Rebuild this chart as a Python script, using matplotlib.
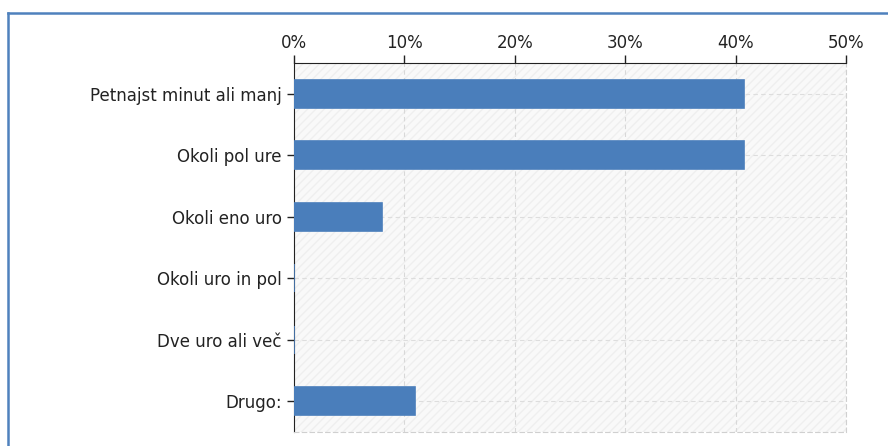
import matplotlib
matplotlib.use("Agg")
import matplotlib.pyplot as plt
from matplotlib.patches import Rectangle
from matplotlib.lines import Line2D

# Podatki
kategorije = ["Petnajst minut ali manj", "Okoli pol ure", "Okoli eno uro",
              "Okoli uro in pol", "Dve uro ali več", "Drugo:"]
odstotki = [40.8, 40.8, 8.0, 0.0, 0.0, 11.0]
oznake_x = ["0%", "10%", "20%", "30%", "40%", "50%"]

plt.rcParams['font.family'] = ['DejaVu Sans']

fig = plt.figure(figsize=(8.88, 4.46), dpi=100)
ax = fig.add_axes([294 / 888, 1 - 432 / 446, 552 / 888, 369 / 446])

# ozadje s srafuro
ax.set_facecolor("#f9f9f9")
ax.add_patch(Rectangle((0, 0), 1, 1, transform=ax.transAxes, facecolor="none",
                       edgecolor="#efefef", hatch="////", lw=0, zorder=0))

y = range(len(kategorije))
ax.barh(y, odstotki, height=0.46, color="#4a7ebb", edgecolor="#4a7ebb",
        linewidth=1.2, zorder=3)

ax.set_xlim(0, 50)
ax.set_ylim(len(kategorije) - 0.5, -0.5)

ax.set_xticks(range(0, 51, 10))
ax.set_xticklabels(oznake_x)
ax.set_yticks(list(y))
ax.set_yticklabels(kategorije)
ax.xaxis.tick_top()
ax.tick_params(axis='x', length=6, width=1, colors="#222222", labelsize=12, pad=2)
ax.tick_params(axis='y', length=5, width=1, colors="#222222", labelsize=12, pad=4)

# mreza
for v in range(10, 51, 10):
    ax.axvline(v, color="#d8d8d8", lw=0.8, ls=(0, (4, 3)), zorder=1)
for yy in y:
    ax.axhline(yy, color="#dddddd", lw=0.8, ls=(0, (4, 3)), zorder=1)

for s in ["right", "bottom"]:
    ax.spines[s].set_color("#d0d0d0")
    ax.spines[s].set_linestyle((0, (4, 3)))
ax.spines["top"].set_color("#222222")
ax.spines["left"].set_color("#222222")

# modra obroba
fig.add_artist(Line2D([7.5 / 888, 1], [1 - 12.5 / 446, 1 - 12.5 / 446],
                      transform=fig.transFigure, color="#4f81bd", lw=1.8))
fig.add_artist(Line2D([7.5 / 888, 7.5 / 888], [0, 1 - 12.5 / 446],
                      transform=fig.transFigure, color="#4f81bd", lw=1.8))

fig.savefig("out.png", dpi=100)
